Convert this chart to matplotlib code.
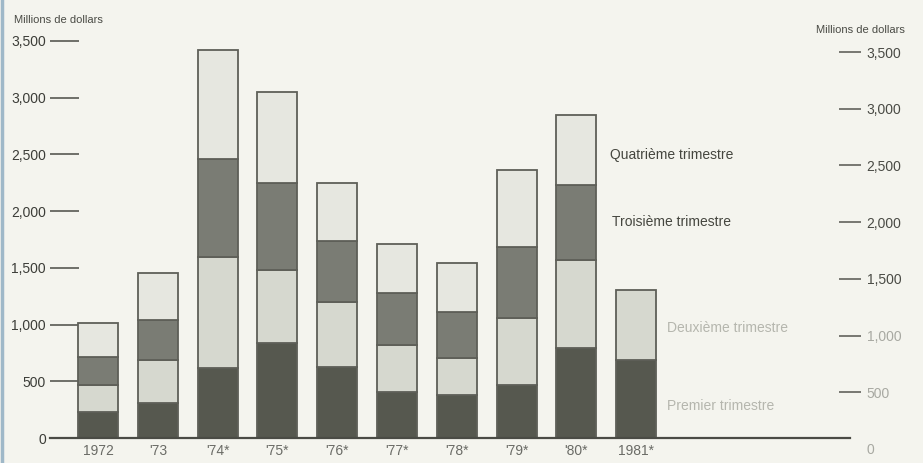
import numpy as np
import matplotlib
matplotlib.use("Agg")
import matplotlib.pyplot as plt

# ---- données (millions de dollars) ----
years = ["1972", "'73", "'74*", "'75*", "'76*", "'77*", "'78*", "'79*", "'80*", "1981*"]
q1 = [230, 310, 620, 840, 625, 405, 380, 465, 795, 690]
q2 = [237, 378, 976, 643, 574, 415, 325, 593, 776, 617]
q3 = [247, 352, 864, 767, 538, 458, 406, 622, 661, np.nan]
q4 = [296, 415, 960, 802, 511, 432, 432, 680, 618, np.nan]
left_ticks = [0, 500, 1000, 1500, 2000, 2500, 3000, 3500]
tick_text = ["0", "500", "1,000", "1,500", "2,000", "2,500", "3,000", "3,500"]

BG = "#f4f4ee"
C_Q1 = "#56584f"
C_Q2 = "#d6d8cf"
C_Q3 = "#7a7c74"
C_Q4 = "#e6e7e0"
EDGE = "#5e5f58"

W, H = 923, 463
fig = plt.figure(figsize=(W / 100, H / 100), dpi=100)
fig.patch.set_facecolor(BG)

# axes : x de 50 à 850 px, y de 438 (0) à 41 (3500) px
ax = fig.add_axes([50 / W, 1 - 438 / H, 800 / W, 397 / H])
ax.set_facecolor("none")
ax.set_ylim(0, 3500)
ax.set_xlim(-0.803, 12.575)

x = np.arange(len(years))
width = 0.67
bottom = np.zeros(len(years))
for vals, col in [(q1, C_Q1), (q2, C_Q2), (q3, C_Q3), (q4, C_Q4)]:
    v = np.array(vals, dtype=float)
    ok = ~np.isnan(v)
    ax.bar(x[ok], v[ok], width, bottom=bottom[ok], color=col,
           edgecolor=EDGE, linewidth=1.3, zorder=2)
    bottom[ok] += v[ok]

for s in ["top", "right", "left"]:
    ax.spines[s].set_visible(False)
ax.spines["bottom"].set_color("#4a4b45")
ax.spines["bottom"].set_linewidth(1.6)

ax.set_xticks(x)
ax.set_xticklabels(years, fontsize=10, color="#6a6b66")
ax.tick_params(axis="x", length=0, pad=4)

ax.set_yticks(left_ticks)
ax.set_yticklabels(tick_text, fontsize=10, color="#3c3d38")
ax.tick_params(axis="y", direction="in", length=21, width=1.1,
               color="#4a4b45", pad=3)

# axe de droite, un peu décalé vers le bas
ax2 = fig.add_axes([50 / W, 1 - 449 / H, 800 / W, 397 / H])
ax2.set_facecolor("none")
ax2.set_ylim(0, 3500)
ax2.set_xticks([])
for s in ["top", "right", "left", "bottom"]:
    ax2.spines[s].set_visible(False)
ax2.yaxis.tick_right()
ax2.set_yticks(left_ticks)
ax2.set_yticklabels(tick_text, fontsize=10, color="#4a4b45")
ax2.tick_params(axis="y", direction="inout", length=16, width=1.1,
                color="#55564f", pad=4)
for lab in ax2.get_yticklabels()[:3]:
    lab.set_color("#a8a9a2")
ax2.yaxis.get_major_ticks()[0].tick2line.set_visible(False)

for t in ax.get_yticklabels() + ax2.get_yticklabels() + ax.get_xticklabels():
    t.set_family("Liberation Sans")

# titres d'axe
fig.text(14 / W, 1 - 20 / H, "Millions de dollars", fontsize=8, color="#4a4b45",
         family="Liberation Sans", va="center", ha="left")
fig.text(905 / W, 1 - 30 / H, "Millions de dollars", fontsize=8, color="#4a4b45",
         family="Liberation Sans", va="center", ha="right")

# étiquettes des trimestres
fig.text(610 / W, 1 - 155 / H, "Quatrième trimestre", fontsize=10, color="#45463f",
         family="Liberation Sans", va="center", ha="left")
fig.text(612 / W, 1 - 222 / H, "Troisième trimestre", fontsize=10, color="#45463f",
         family="Liberation Sans", va="center", ha="left")
fig.text(667 / W, 1 - 328 / H, "Deuxième trimestre", fontsize=10, color="#b5b6ae",
         family="Liberation Sans", va="center", ha="left")
fig.text(667 / W, 1 - 406 / H, "Premier trimestre", fontsize=10, color="#b5b6ae",
         family="Liberation Sans", va="center", ha="left")

# bord gauche du scan
fig.add_artist(plt.Line2D([1.5 / W, 1.5 / W], [0, 1], color="#9fb8c8", lw=2.5))

fig.savefig("out.png", dpi=100, facecolor=BG)
